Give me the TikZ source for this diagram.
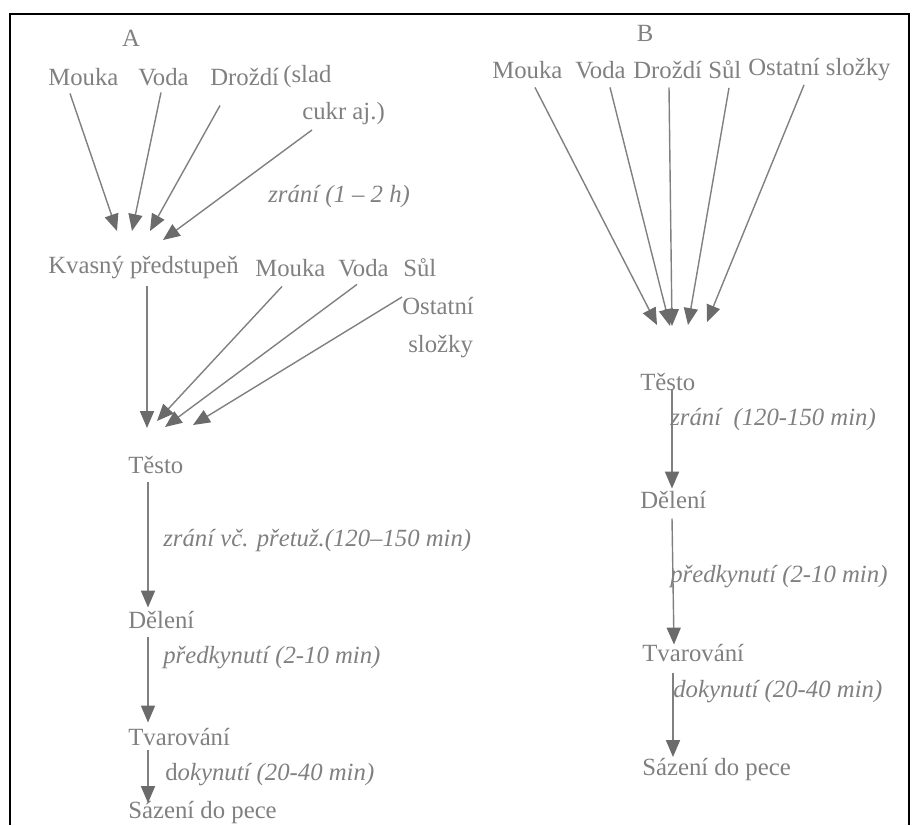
\documentclass[tikz,border=0pt]{standalone}
\usepackage{fontspec}
\setmainfont{Liberation Serif}
\usetikzlibrary{arrows.meta,calc}
\colorlet{inkcol}{black!50}
\tikzset{>={Triangle[length=12pt,width=10pt,color=black!58]}}
\tikzset{lbl/.style={anchor=west,inner sep=0pt,text=inkcol,font=\fontsize{17.6}{20}\selectfont}}
\tikzset{note/.style={lbl,font=\fontsize{17.6}{20}\selectfont\itshape}}
\tikzset{flow/.style={->,draw=inkcol,line width=1pt}}

\begin{document}
\begin{tikzpicture}[x=0.025cm,y=-0.025cm]
\useasboundingbox (0,0) rectangle (912,825);
\draw[line width=1.6pt] (10,825) -- (10,14) -- (909,14) -- (909,825);

% postup A
\node[lbl,anchor=center] (hA) at (131,38) {A};
\node[lbl] (mA) at (48,77) {Mouka};
\node[lbl] (vA) at (138,77) {Voda};
\node[lbl] (dA) at (210,77) {Droždí};
\node[lbl] (sA) at (283,77) {(slad};
\node[lbl] (cA) at (302,114) {cukr aj.)};
\node[note] (zA) at (268,197) {zrání (1 – 2 h)};
\node[lbl] (kA) at (48,268) {Kvasný předstupeň};
\node[lbl] (m2A) at (255,268) {Mouka};
\node[lbl] (v2A) at (338,268) {Voda};
\node[lbl] (slA) at (403,268) {Sůl};
\node[lbl] (oA) at (402,306) {Ostatní};
\node[lbl] (o2A) at (408,347) {složky};
\node[lbl] (tA) at (128,465) {Těsto};
\node[note] (z2A) at (163,541) {zrání vč. přetuž.(120–150 min)};
\node[lbl] (deA) at (128,620) {Dělení};
\node[note] (pA) at (163,658) {předkynutí (2-10 min)};
\node[lbl] (tvA) at (128,737) {Tvarování};
\node[note] (dkA) at (165,775) {{\upshape d}okynutí (20-40 min)};
\node[lbl] (szA) at (128,813) {Sázení do pece};

\coordinate (jA1) at (117,231);
\coordinate (jA2) at (132,231);
\coordinate (jA3) at (150,231);
\coordinate (jA4) at (163,240);
\coordinate (jT1) at (147,428);
\coordinate (jT2) at (157,421);
\coordinate (jT3) at (165,427);
\coordinate (jT4) at (193,425);

\draw[flow] ($(mA.base west)+(22,8)$) -- (jA1);
\draw[flow] ($(vA.base west)+(23,7)$) -- (jA2);
\draw[flow] ($(dA.base west)+(10,20)$) -- (jA3);
\draw[flow] ($(cA.base west)+(10,10)$) -- (jA4);
\draw[flow] ($(kA.base west)+(99,12)$) -- (jT1);
\draw[flow] ($(m2A.base west)+(27,10)$) -- (jT2);
\draw[flow] ($(v2A.base west)+(19,8)$) -- (jT3);
\draw[flow] ($(oA.west)+(0,-9)$) -- (jT4);
\draw[flow] ($(tA.base west)+(20,8)$) -- ($(deA.base west)+(20,-21)$);
\draw[flow] ($(deA.base west)+(20,8)$) -- ($(tvA.base west)+(20,-23)$);
\draw[flow] ($(tvA.base west)+(20,4)$) -- ($(szA.base west)+(20,-16)$);

% postup B
\node[lbl,anchor=center] (hB) at (645,33) {B};
\node[lbl] (mB) at (492,70) {Mouka};
\node[lbl] (vB) at (575,70) {Voda};
\node[lbl] (drB) at (633,70) {Droždí};
\node[lbl] (sB) at (708,70) {Sůl};
\node[lbl] (oB) at (748,70) {Ostatní složky};
\node[lbl] (tB) at (640,382) {Těsto};
\node[note] (zB) at (670,420) {zrání\ \ (120-150 min)};
\node[lbl] (deB) at (640,500) {Dělení};
\node[note] (pB) at (670,577) {předkynutí (2-10 min)};
\node[lbl] (tvB) at (642,653) {Tvarování};
\node[note] (dkB) at (673,692) {dokynutí (20-40 min)};
\node[lbl] (szB) at (642,770) {Sázení do pece};

\coordinate (jB1) at (657,325);
\coordinate (jB2) at (670,326);
\coordinate (jB3) at (672,326);
\coordinate (jB4) at (688,325);
\coordinate (jB5) at (707,322);

\draw[flow] ($(mB.base west)+(43,9)$) -- (jB1);
\draw[flow] ($(vB.base west)+(35,9)$) -- (jB2);
\draw[flow] ($(drB.base west)+(36,9)$) -- (jB3);
\draw[flow] ($(sB.base west)+(21,9)$) -- (jB4);
\draw[flow] ($(oB.base west)+(56,9)$) -- (jB5);
\draw[flow] ($(tB.base west)+(32,-2)$) -- ($(deB.base west)+(32,-20)$);
\draw[flow] ($(deB.base west)+(32,10)$) -- ($(tvB.base west)+(32,-17)$);
\draw[flow] ($(tvB.base west)+(31,11)$) -- ($(szB.base west)+(31,-19)$);
\end{tikzpicture}
\end{document}
